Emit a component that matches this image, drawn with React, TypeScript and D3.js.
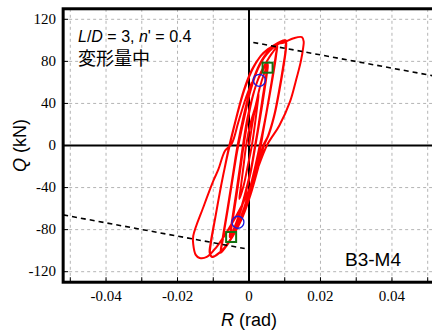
import React from "react";
import * as d3 from "d3";

type P = [number, number];

// Hysteresis cycles [R (rad), Q (kN)]
const cycle0: P[] = [
  [0, 0], [0.001, 22], [0.002, 40], [0.0027, 49], [0.0024, 40], [0.0015, 16], [0.0008, 0], [-0.0005, -22], [-0.0015, -38], [-0.0027, -51],
  [-0.0023, -40], [-0.0014, -16], [-0.0008, 0], [0.0005, 22],
];
const cycle1: P[] = [
  [0.0018, 37], [0.003, 55], [0.0042, 68], [0.0053, 77],
  [0.005, 68], [0.004, 45], [0.0028, 20], [0.0018, 0], [0.0005, -25], [-0.001, -46], [-0.0025, -64], [-0.0038, -76], [-0.0052, -86],
  [-0.0048, -76], [-0.0036, -50], [-0.0024, -22], [-0.0015, 0], [-0.0003, 25], [0.001, 46], [0.0027, 64], [0.0052, 78],
];
const cycle2: P[] = [
  [0.0048, 67], [0.0037, 43], [0.0026, 18], [0.0017, 0], [0.0004, -25], [-0.0012, -47], [-0.0028, -66], [-0.0042, -79], [-0.0054, -87],
  [-0.005, -77], [-0.0038, -50], [-0.0026, -22], [-0.0017, 0], [-0.0005, 25], [0.0012, 49], [0.003, 67], [0.005, 80], [0.0065, 88], [0.0077, 93],
];
const cycle3: P[] = [
  [0.0075, 85], [0.0063, 60], [0.0049, 32], [0.0037, 11], [0.003, 0], [0.0014, -25], [-0.0004, -49], [-0.0024, -69], [-0.0045, -85], [-0.0063, -95], [-0.0078, -101],
  [-0.0074, -90], [-0.006, -62], [-0.0046, -32], [-0.0036, -11], [-0.003, 0], [-0.0013, 28], [0.0005, 53], [0.0025, 73], [0.005, 87], [0.0078, 95],
];
const cycle4: P[] = [
  [0.0075, 86], [0.0062, 58], [0.0048, 30], [0.0037, 10], [0.0031, 0], [0.0015, -24], [-0.0003, -48], [-0.0023, -68], [-0.0044, -84], [-0.0062, -95], [-0.0079, -102],
  [-0.0075, -91], [-0.0061, -62], [-0.0047, -32], [-0.0037, -10], [-0.0032, 0], [-0.0015, 28], [0.0004, 54], [0.0025, 74], [0.005, 88], [0.0078, 96],
];
const cycle4b: P[] = [
  [0.0076, 86], [0.0064, 60], [0.005, 33], [0.0039, 12], [0.0033, 0], [0.0017, -23], [-0.0001, -47], [-0.0021, -67], [-0.0042, -83], [-0.006, -94], [-0.0077, -100],
  [-0.0073, -89], [-0.0059, -60], [-0.0045, -30], [-0.0035, -9], [-0.003, 0], [-0.0011, 30], [0.0007, 56], [0.0028, 75], [0.0052, 88], [0.008, 96], [0.0096, 99], [0.0103, 100],
];
const cycle5: P[] = [
  [0.0104, 94], [0.0097, 76], [0.0086, 54], [0.0072, 30], [0.0055, 10], [0.0042, 0], [0.0025, -22], [0.0005, -46], [-0.0018, -68], [-0.0045, -86], [-0.007, -98], [-0.009, -104], [-0.0102, -106], [-0.0109, -103],
  [-0.0107, -94], [-0.0094, -68], [-0.0079, -40], [-0.0065, -16], [-0.0055, 0], [-0.0036, 26], [-0.0015, 52], [0.0008, 72], [0.0035, 86], [0.0068, 95], [0.0101, 100],
];
const cycle6: P[] = [
  [0.0103, 94], [0.0095, 74], [0.0084, 52], [0.007, 28], [0.0053, 9], [0.004, 0], [0.0023, -22], [0.0003, -46], [-0.002, -68], [-0.0046, -86], [-0.0071, -98], [-0.0091, -104], [-0.0103, -106], [-0.011, -102],
  [-0.0107, -92], [-0.0093, -66], [-0.0078, -38], [-0.0064, -15], [-0.0054, 0], [-0.0034, 28], [-0.0012, 54], [0.0012, 74], [0.004, 88], [0.0075, 96], [0.0098, 98], [0.0125, 102], [0.0148, 103],
];
const cycle7: P[] = [
  [0.0153, 99], [0.0152, 94], [0.0145, 80], [0.013, 60], [0.0115, 42], [0.0085, 19], [0.005, 0], [0.0012, -33], [-0.002, -57], [-0.0058, -80], [-0.0092, -97], [-0.0118, -106], [-0.0138, -107], [-0.0149, -104], [-0.0156, -94],
  [-0.0156, -86], [-0.0127, -58], [-0.0099, -33], [-0.0086, -23], [-0.0067, -5], [-0.0048, 2], [-0.003, 22], [-0.001, 44], [0.0008, 60],
];
const cycles: P[][] = [cycle0, cycle1, cycle2, cycle3, cycle4, cycle4b, cycle5, cycle6, cycle7];

// dashed reference lines
const refUpper: P[] = [[0.0012, 98], [0.052, 66]];
const refLower: P[] = [[-0.052, -66], [-0.0012, -98]];

// markers
const circles: P[] = [[0.0029, 62], [-0.0031, -73]];
const squares: P[] = [[0.0052, 74], [-0.005, -87]];

const xTicks = [-0.04, -0.02, 0, 0.02, 0.04];
const xGrid = [-0.05, -0.04, -0.03, -0.02, -0.01, 0, 0.01, 0.02, 0.03, 0.04, 0.05];
const yTicks = [-120, -80, -40, 0, 40, 80, 120];

export default function App() {
  const W = 432, H = 336;
  const x = d3.scaleLinear().domain([-0.05, 0.05]).range([70.3, 427.7]);
  const y = d3.scaleLinear().domain([-120, 120]).range([271.7, 19.3]);
  const left = x(-0.052), right = x(0.052), top = y(130), bottom = y(-130);

  const line = d3.line<P>().x((d) => x(d[0])).y((d) => y(d[1])).curve(d3.curveCatmullRom.alpha(0.5));
  const straight = d3.line<P>().x((d) => x(d[0])).y((d) => y(d[1]));
  const allPts: P[] = ([] as P[]).concat(...cycles);

  const serif = "'Liberation Serif', 'DejaVu Serif', serif";
  const sans = "'Liberation Sans', Arial, sans-serif";
  const fmtX = (v: number) => (v === 0 ? "0" : d3.format(".2f")(v).replace("−", "-"));

  return (
    <svg width={W} height={H} style={{ position: "fixed", left: 0, top: 0, background: "#fff" }}>
      <rect x={0} y={0} width={W} height={H} fill="#fff" />
      <defs>
        <clipPath id="plot">
          <rect x={left} y={top} width={right - left} height={bottom - top} />
        </clipPath>
      </defs>
      {/* grid */}
      {xGrid.map((v) => (
        <line key={"gx" + v} x1={x(v)} x2={x(v)} y1={top} y2={bottom} stroke="#b4b4b4" strokeWidth={1} strokeDasharray="3,3" />
      ))}
      {yTicks.map((v) => (
        <line key={"gy" + v} x1={left} x2={right} y1={y(v)} y2={y(v)} stroke="#b4b4b4" strokeWidth={1} strokeDasharray="3,3" />
      ))}
      {/* zero lines */}
      <line x1={x(0)} x2={x(0)} y1={top} y2={bottom} stroke="#000" strokeWidth={2} />
      <line x1={left} x2={right} y1={y(0)} y2={y(0)} stroke="#000" strokeWidth={2} />
      {/* hysteresis */}
      <g clipPath="url(#plot)">
        <path d={line(allPts) || ""} fill="none" stroke="#ff0000" strokeWidth={2} strokeLinejoin="round" />
        <path d={straight(refUpper) || ""} fill="none" stroke="#000" strokeWidth={1.6} strokeDasharray="5,4" />
        <path d={straight(refLower) || ""} fill="none" stroke="#000" strokeWidth={1.6} strokeDasharray="5,4" />
      </g>
      {circles.map((c, i) => (
        <circle key={"c" + i} cx={x(c[0])} cy={y(c[1])} r={6} fill="none" stroke="#1a1ae0" strokeWidth={1.3} />
      ))}
      {squares.map((s, i) => (
        <rect key={"s" + i} x={x(s[0]) - 5} y={y(s[1]) - 5} width={10} height={10} fill="none" stroke="#137313" strokeWidth={2} />
      ))}
      {/* ticks */}
      {xGrid.map((v) => (
        <line key={"tx" + v} x1={x(v)} x2={x(v)} y1={bottom} y2={bottom - 5} stroke="#000" strokeWidth={1} />
      ))}
      {yTicks.map((v) => (
        <line key={"ty" + v} x1={left} x2={left + 5} y1={y(v)} y2={y(v)} stroke="#000" strokeWidth={1} />
      ))}
      {/* frame */}
      <rect x={left} y={top} width={right - left} height={bottom - top} fill="none" stroke="#000" strokeWidth={3} />
      {/* tick labels */}
      {xTicks.map((v) => (
        <text key={"lx" + v} x={x(v)} y={301} textAnchor="middle" fontFamily={serif} fontSize={15} fill="#000">
          {fmtX(v)}
        </text>
      ))}
      {yTicks.map((v) => (
        <text key={"ly" + v} x={56} y={y(v) + 4.5} textAnchor="end" fontFamily={serif} fontSize={15} fill="#000">
          {String(v)}
        </text>
      ))}
      {/* axis titles */}
      <text x={249} y={326} textAnchor="middle" fontFamily={sans} fontSize={18} fill="#000">
        <tspan fontStyle="italic">R</tspan> (rad)
      </text>
      <text transform={`translate(26,${y(0)}) rotate(-90)`} textAnchor="middle" fontFamily={sans} fontSize={18} fill="#000">
        <tspan fontStyle="italic">Q</tspan> (kN)
      </text>
      {/* annotations */}
      <text x={78} y={42} fontFamily={sans} fontSize={16} fill="#000">
        <tspan fontStyle="italic">L</tspan>/<tspan fontStyle="italic">D</tspan> = 3, <tspan fontStyle="italic">n</tspan>' = 0.4
      </text>
      <text x={78} y={65} fontFamily="'Noto Sans CJK JP', sans-serif" fontSize={18} fill="#000">
        変形量中
      </text>
      <text x={345} y={266} fontFamily={sans} fontSize={19} fill="#000">
        B3-M4
      </text>
    </svg>
  );
}
